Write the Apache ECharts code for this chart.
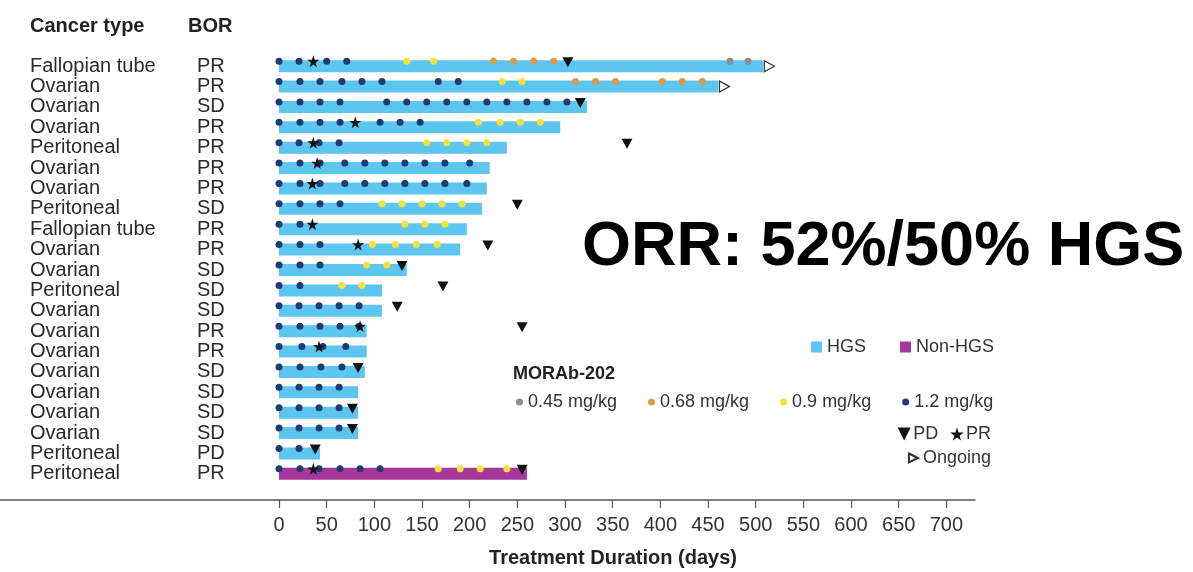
<!DOCTYPE html>
<html>
<head>
<meta charset="utf-8">
<script src="https://cdn.jsdelivr.net/npm/echarts@6/dist/echarts.min.js"></script>
<style>
html,body{margin:0;padding:0;background:#fff;}
#chart{width:1193px;height:572px;}
</style>
</head>
<body>
<div id="chart"></div>
<script>
// ---------- DATA ----------
var cancerTypes = ['Fallopian tube','Ovarian','Ovarian','Ovarian','Peritoneal','Ovarian','Ovarian','Peritoneal','Fallopian tube','Ovarian','Ovarian','Peritoneal','Ovarian','Ovarian','Ovarian','Ovarian','Ovarian','Ovarian','Ovarian','Peritoneal','Peritoneal'];
var bor = ['PR','PR','SD','PR','PR','PR','PR','SD','PR','PR','SD','SD','SD','PR','PR','SD','SD','SD','SD','PD','PR'];
// treatment duration (days); last row is Non-HGS
var hgsDuration =    [508,461,323,295,239,221,218,213,197,190,134,108,108,92,92,90,83,83,83,43,null];
var nonHgsDuration = [null,null,null,null,null,null,null,null,null,null,null,null,null,null,null,null,null,null,null,null,260];
// dosing days per row, by dose level
var dose045 = [[473,492],[],[],[],[],[],[],[],[],[],[],[],[],[],[],[],[],[],[],[],[]];
var dose068 = [[225,246,267,288],[311,332,353,402,423,444],[],[],[],[],[],[],[],[],[],[],[],[],[],[],[],[],[],[],[]];
var dose09  = [[134,162],[234,255],[],[209,232,253,274],[155,176,197,218],[],[],[108,129,150,171,192],[132,153,174],[98,122,144,166],[92,113],[66,87],[],[],[],[],[],[],[],[],[167,190,211,239]];
var dose12  = [[0,21,50,71],[0,22,43,66,87,108,167,188],[0,22,43,64,113,134,155,176,197,218,239,260,281,302],[0,22,43,64,106,127,148],[0,21,42,63],[0,22,43,69,90,111,132,153,174,200],[0,22,43,69,90,111,132,153,174,197],[0,22,43,64],[0,22],[0,22,43],[0,22,43],[0,22],[0,21,42,63,84],[0,22,43,64,84],[0,24,46,70],[0,22,44,66],[0,21,42,63],[0,21,42,63],[0,21,42,63],[0,21],[0,22,42,64,85,106]];
var pdDay = [303,null,316,null,365,null,null,250,null,219,129,172,124,255,null,83,null,77,77,38,255];
var prDay = [36,null,null,80,36,40,35,null,35,83,null,null,null,85,42,null,null,null,null,null,36];
var ongoing = [true,true,false,false,false,false,false,false,false,false,false,false,false,false,false,false,false,false,false,false,false];
var xTicks = [0,50,100,150,200,250,300,350,400,450,500,550,600,650,700];
var doseNames = ['0.45 mg/kg','0.68 mg/kg','0.9 mg/kg','1.2 mg/kg'];
var doseColors = ['#8e8e8e','#d89a4c','#f3e23c','#1f3b73'];

// ---------- BUILD ----------
var rows = cancerTypes.map(function(_, i){ return String(i); });
function pairs(arr){ var out=[]; arr.forEach(function(days,i){ days.forEach(function(d){ out.push([d,i]); }); }); return out; }
function single(arr){ var out=[]; arr.forEach(function(d,i){ if(d!==null) out.push([d,i]); }); return out; }
var ongoingData = []; ongoing.forEach(function(f,i){ if(f) ongoingData.push([hgsDuration[i]!==null?hgsDuration[i]:nonHgsDuration[i], i]); });

var FONT = '"Liberation Sans", Arial, Helvetica, sans-serif';
var STAR = 'path://M50,0 L61,35 L98,35 L68,57 L79,91 L50,70 L21,91 L32,57 L2,35 L39,35 Z';
var DOWN = 'path://M0,0 L10,0 L5,10 Z';
var RIGHT = 'path://M0,0 L10,5 L0,10 Z';

var doseSeries = [dose045,dose068,dose09,dose12].map(function(d,k){
  return {name: doseNames[k], type:'scatter', data: pairs(d), symbol:'circle', symbolSize:7,
    symbolOffset:[0,-5], itemStyle:{color:doseColors[k], opacity:1}, z:3, silent:true};
});

var chart = echarts.init(document.getElementById('chart'), null, {renderer:'canvas'});
chart.setOption({
  animation:false,
  textStyle:{fontFamily:FONT},
  grid:{left:279, right:218, top:56, bottom:88, containLabel:false, outerBoundsMode:'none'},
  xAxis:{type:'value', min:0, max:730, offset:16,
    axisLine:{show:true, lineStyle:{color:'#555', width:1.5}},
    axisTick:{show:true, customValues:xTicks, length:8, inside:false, lineStyle:{color:'#555', width:1.2}},
    axisLabel:{customValues:xTicks, fontSize:20, color:'#333', margin:15, fontFamily:FONT},
    splitLine:{show:false},
    name:'Treatment Duration (days)', nameLocation:'middle', nameGap:48,
    nameTextStyle:{fontSize:20, fontWeight:'bold', color:'#222', fontFamily:FONT, padding:[0,28,0,0]}
  },
  yAxis:{type:'category', data:rows, inverse:true,
    axisLine:{show:false}, axisTick:{show:false}, splitLine:{show:false},
    axisLabel:{align:'left', margin:249, fontFamily:FONT,
      formatter:function(v){ var i=+v; return '{a|'+cancerTypes[i]+'}{b|'+bor[i]+'}'; },
      rich:{a:{width:167, fontSize:20, color:'#2a2a2a', fontFamily:FONT}, b:{fontSize:20, color:'#2a2a2a', fontFamily:FONT}}
    }
  },
  legend:[
    {data:['HGS','Non-HGS'], left:806, top:333, icon:'rect', itemWidth:11, itemHeight:11, itemGap:34,
      textStyle:{fontSize:18, color:'#333', fontFamily:FONT}, selectedMode:false},
    {data:doseNames, left:511, top:388, icon:'circle', itemWidth:7, itemHeight:7, itemGap:31,
      textStyle:{fontSize:18, color:'#333', fontFamily:FONT}, selectedMode:false},
    {data:[{name:'PD', icon:DOWN},{name:'PR', icon:STAR}], right:197, top:420, itemWidth:14, itemHeight:13, itemGap:12,
      textStyle:{fontSize:18, color:'#333', fontFamily:FONT, padding:[0,0,0,-3]}, selectedMode:false},
    {data:[{name:'Ongoing', icon:RIGHT}], right:197, top:444, itemWidth:9, itemHeight:10, itemGap:8,
      textStyle:{fontSize:18, color:'#333', fontFamily:FONT}, selectedMode:false}
  ],
  series:[
    {name:'HGS', type:'bar', stack:'dur', data:hgsDuration, barWidth:12, itemStyle:{color:'#5cc6f0'}, z:1, silent:true},
    {name:'Non-HGS', type:'bar', stack:'dur', data:nonHgsDuration, barWidth:12, itemStyle:{color:'#a8379c'}, z:1, silent:true}
  ].concat(doseSeries).concat([
    {name:'PD', type:'scatter', data:single(pdDay), symbol:DOWN, symbolSize:[11,10], symbolOffset:[0,-4],
      itemStyle:{color:'#111', opacity:1}, z:5, silent:true},
    {name:'PR', type:'scatter', data:single(prDay), symbol:STAR, symbolSize:12, symbolOffset:[0,-5],
      itemStyle:{color:'#111', opacity:1}, z:5, silent:true},
    {name:'Ongoing', type:'scatter', data:ongoingData, symbol:RIGHT, symbolSize:[10,11], symbolOffset:[6,0],
      itemStyle:{color:'#fff', borderColor:'#333', borderWidth:1.2, opacity:1}, z:5, silent:true}
  ]),
  graphic:[
    {type:'text', left:30, top:16, style:{text:'Cancer type', font:'bold 20px '+FONT, fill:'#222'}},
    {type:'text', left:188, top:16, style:{text:'BOR', font:'bold 20px '+FONT, fill:'#222'}},
    {type:'text', left:513, top:365, style:{text:'MORAb-202', font:'bold 18px '+FONT, fill:'#222'}},
    {type:'text', left:582, top:216, style:{text:'ORR: 52%/50% HGS', font:'bold 63px '+FONT, fill:'#000'}},
    {type:'line', shape:{x1:0, y1:500, x2:280, y2:500}, style:{stroke:'#555', lineWidth:1.5}, silent:true}
  ]
});
</script>
</body>
</html>
